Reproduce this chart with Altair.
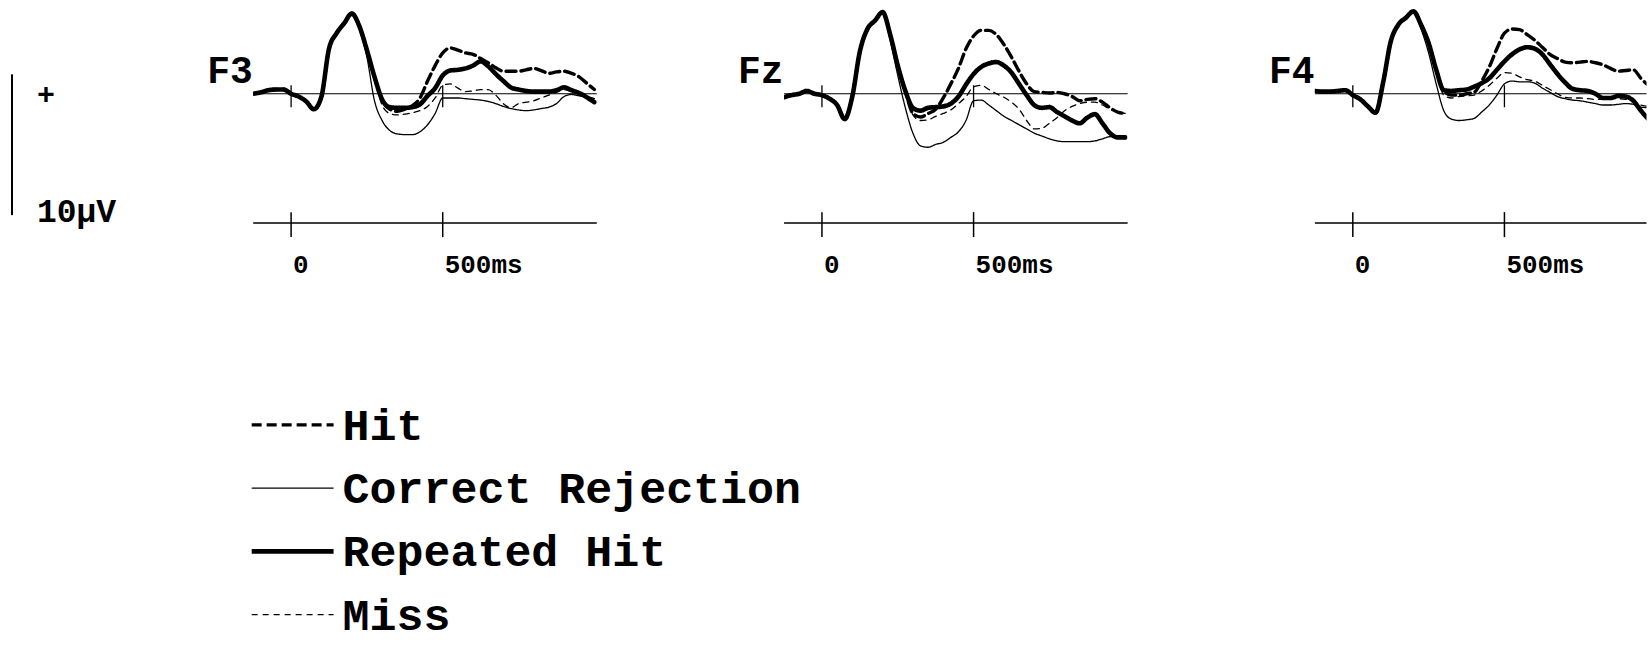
import altair as alt
import pandas as pd

# ---------------- data ----------------
TIMES = [-125, -100, -75, -50, -25, 0, 25, 50, 75, 100, 125, 150, 175, 200, 225, 250, 275,
         300, 325, 350, 375, 400, 425, 450, 475, 500, 525, 550, 575, 600, 625, 650, 675,
         700, 725, 750, 775, 800, 825, 850, 875, 900, 925, 950, 975, 1000]

SERIES = ["Hit", "Correct Rejection", "Repeated Hit", "Miss"]

# F3 (µV)
F3_EARLY = [0.0, 0.1, 0.25, 0.3, 0.3, 0.0, -0.2, -0.55, -1.1, -0.2, 3.2, 4.3, 5.0, 5.7, 4.8, 3.1, 1.2]
F3_CR_EARLY = [0.0, 0.1, 0.25, 0.3, 0.3, 0.0, -0.2, -0.55, -1.1, -0.2, 3.2, 4.3, 5.0, 5.7, 4.6, 2.6, -0.5]
F3_HIT = [-0.4, -1.1, -1.25, -1.1, -0.85, -0.3, 0.9, 2.0, 2.9, 3.25, 3.1, 2.9, 2.8, 2.5, 2.2,
          1.85, 1.6, 1.6, 1.6, 1.7, 1.8, 1.65, 1.45, 1.55, 1.6, 1.45, 1.2, 0.75, 0.3]
F3_CR = [-1.9, -2.6, -2.85, -2.9, -2.9, -2.7, -2.2, -1.4, -0.3, -0.3, -0.3, -0.35, -0.4, -0.45,
         -0.55, -0.7, -0.9, -1.05, -1.15, -1.2, -1.15, -1.05, -0.95, -0.7, -0.2, -0.05, -0.15, -0.2, -0.35]
F3_RH = [-0.4, -0.95, -1.0, -1.0, -0.95, -0.75, -0.15, 0.4, 1.3, 1.65, 1.7, 1.8, 2.0, 2.3, 1.95,
         1.4, 0.9, 0.45, 0.3, 0.2, 0.15, 0.15, 0.15, 0.25, 0.45, 0.25, 0.05, -0.25, -0.6]
F3_MISS = [-0.8, -1.4, -1.5, -1.45, -1.35, -1.2, -0.9, -0.3, 0.6, 0.7, 0.4, 0.15, 0.2, 0.3, 0.3,
           -0.1, -0.7, -1.0, -0.7, -0.6, -0.5, -0.3, -0.1, 0.1, 0.3, 0.15, -0.05, -0.25, -0.45]

# Fz (µV)
FZ_EARLY = [-0.25, -0.1, 0.0, 0.2, 0.0, -0.1, -0.35, -0.8, -1.8, -0.2, 3.0, 4.6, 5.2, 5.8, 4.2, 2.0, 0.2]
FZ_CR_EARLY = [-0.25, -0.1, 0.0, 0.2, 0.0, -0.1, -0.35, -0.8, -1.8, -0.2, 3.0, 4.6, 5.2, 5.8, 3.8, 1.3, -1.0]
FZ_HIT = [-1.4, -1.65, -1.4, -1.1, -0.3, 0.7, 1.8, 3.2, 4.1, 4.5, 4.5, 4.2, 3.5, 2.6, 1.6, 0.7,
          0.15, 0.1, 0.05, 0.1, 0.0, -0.2, -0.5, -0.4, -0.35, -0.6, -1.0, -1.3, -1.4]
FZ_CR = [-2.8, -3.7, -3.8, -3.6, -3.45, -3.1, -2.7, -1.9, -0.5, -0.45, -0.8, -1.2, -1.6, -1.9,
         -2.2, -2.5, -2.8, -3.0, -3.2, -3.35, -3.4, -3.4, -3.4, -3.4, -3.35, -3.2, -3.05, -3.1, -3.2]
FZ_RH = [-1.0, -1.2, -1.0, -0.95, -0.9, -0.7, -0.2, 0.65, 1.4, 1.9, 2.15, 2.25, 2.0, 1.5, 0.7,
         -0.1, -0.8, -1.0, -0.95, -1.3, -1.6, -1.9, -2.1, -1.7, -1.45, -2.1, -2.8, -3.1, -3.1]
FZ_MISS = [-1.5, -1.9, -1.85, -1.6, -1.4, -1.15, -0.7, -0.2, 0.5, 0.6, 0.3, 0.0, -0.25, -0.6,
           -1.1, -1.9, -2.5, -2.45, -2.1, -1.7, -1.2, -0.9, -0.7, -0.6, -0.6, -0.8, -1.1, -1.3, -1.4]

# F4 (µV)
F4_EARLY = [0.2, 0.15, 0.15, 0.2, 0.25, -0.1, -0.4, -0.9, -1.35, 0.8, 3.7, 4.9, 5.4, 5.85, 4.9, 3.6, 1.7]
F4_CR_EARLY = [0.2, 0.15, 0.15, 0.2, 0.25, -0.1, -0.4, -0.9, -1.35, 0.8, 3.7, 4.9, 5.4, 5.85, 4.6, 2.9, 0.7]
F4_HIT = [0.2, -0.1, -0.1, 0.0, 0.1, 0.9, 1.9, 3.2, 4.3, 4.6, 4.55, 4.2, 3.8, 3.3, 2.8, 2.5,
          2.25, 2.2, 2.25, 2.3, 2.2, 2.05, 1.8, 1.6, 1.65, 1.7, 1.1, 0.6, 0.3]
F4_CR = [-1.2, -1.8, -1.9, -1.85, -1.75, -1.3, -0.8, -0.1, 0.7, 0.9, 0.85, 0.85, 0.75, 0.4, 0.1,
         -0.2, -0.35, -0.45, -0.5, -0.6, -0.7, -0.8, -0.8, -0.75, -0.7, -0.75, -0.95, -1.0, -1.1]
F4_RH = [0.25, 0.2, 0.25, 0.3, 0.5, 0.75, 1.1, 1.7, 2.3, 2.8, 3.15, 3.3, 3.2, 2.8, 2.1, 1.4, 0.8,
         0.35, 0.25, 0.2, 0.0, -0.3, -0.3, -0.15, -0.2, -0.5, -1.2, -1.8, -2.2]
F4_MISS = [-0.1, -0.3, -0.2, -0.15, -0.1, 0.2, 0.6, 1.1, 1.5, 1.45, 1.2, 1.0, 0.9, 0.6, 0.3, 0.0,
           -0.25, -0.3, -0.3, -0.35, -0.4, -0.4, -0.35, -0.35, -0.4, -0.5, -0.8, -0.9, -1.0]

TICK_TIMES = [0, 500]
TICK_LABELS = ["0", "500ms"]
SCALE_BAR = {"top": [1.38], "bottom": [-8.62]}  # 10 µV calibration bar

# ---------------- styling ----------------
FONT = "Liberation Mono"
H = 280
Y_DOMAIN = [-13.23, 6.63]
SPACING = 187.5

dash_scale = alt.Scale(type="ordinal", domain=SERIES, range=[[10, 5], [1, 0], [1, 0], [6, 5]])
width_scale = alt.Scale(type="ordinal", domain=SERIES, range=[3.4, 1.3, 4.6, 1.3])
y_scale = alt.Scale(domain=Y_DOMAIN, nice=False, zero=False)


def make_df(early, cr_early, hit, cr, rh, miss):
    rows = []
    for name, vals in [("Hit", early + hit), ("Correct Rejection", cr_early + cr),
                       ("Repeated Hit", early + rh), ("Miss", early + miss)]:
        for t, v in zip(TIMES, vals):
            rows.append({"t": t, "uv": v, "series": name})
    return pd.DataFrame(rows)


ticks_df = pd.DataFrame({"t": TICK_TIMES, "label": TICK_LABELS})


def panel(name, df, width, x_max):
    xsc = alt.Scale(domain=[-125, x_max], nice=False, zero=False)
    xs = alt.X("t:Q", scale=xsc, axis=None)
    ys = alt.Y("uv:Q", scale=y_scale, axis=None)
    lines = alt.Chart(df).mark_line(
        interpolate="monotone", clip=True, color="black", strokeCap="round", strokeJoin="round"
    ).encode(
        x=xs, y=ys,
        strokeDash=alt.StrokeDash("series:N", scale=dash_scale, legend=None),
        strokeWidth=alt.StrokeWidth("series:N", scale=width_scale, legend=None),
    )
    zero = alt.Chart(pd.DataFrame({"uv": [0.0]})).mark_rule(color="black", strokeWidth=1.2).encode(
        y=ys, x=alt.value(0), x2=alt.value(width))
    base_ticks = alt.Chart(ticks_df).mark_rule(color="black", strokeWidth=1.3).encode(
        x=xs, y=alt.value(85), y2=alt.value(107))
    t_axis = alt.Chart(pd.DataFrame({"t": [0]})).mark_rule(color="black", strokeWidth=1.5).encode(
        x=alt.value(0), x2=alt.value(width), y=alt.value(223))
    t_ticks = alt.Chart(ticks_df).mark_rule(color="black", strokeWidth=1.5).encode(
        x=xs, y=alt.value(212), y2=alt.value(237))
    t_labels = alt.Chart(ticks_df).mark_text(
        align="left", baseline="alphabetic", dx=2, font=FONT, fontWeight="bold", fontSize=26, color="black"
    ).encode(x=xs, y=alt.value(273), text="label:N")
    label = alt.Chart(pd.DataFrame({"label": [name]})).mark_text(
        align="left", baseline="alphabetic", font=FONT, fontWeight="bold", fontSize=38, color="black"
    ).encode(x=alt.value(-46), y=alt.value(83), text="label:N")
    return alt.layer(zero, base_ticks, lines, t_axis, t_ticks, t_labels, label).properties(
        width=width, height=H)


# calibration panel
bar = alt.Chart(pd.DataFrame(SCALE_BAR)).mark_rule(color="black", strokeWidth=2).encode(
    x=alt.value(12), y=alt.Y("top:Q", scale=y_scale, axis=None), y2="bottom:Q")
plus = alt.Chart(pd.DataFrame({"s": ["+"]})).mark_text(
    font=FONT, fontWeight="bold", fontSize=30, color="black", align="center", baseline="middle"
).encode(x=alt.value(46), y=alt.value(95), text="s:N")
unit = alt.Chart(pd.DataFrame({"s": ["10µV"]})).mark_text(
    font=FONT, fontWeight="bold", fontSize=33, color="black", align="left", baseline="alphabetic"
).encode(x=alt.value(37), y=alt.value(222), text="s:N")
cal = alt.layer(bar, plus, unit).properties(width=65.5, height=H)

p_f3 = panel("F3", make_df(F3_EARLY, F3_CR_EARLY, F3_HIT, F3_CR, F3_RH, F3_MISS), 344, 1008)
p_fz = panel("Fz", make_df(FZ_EARLY, FZ_CR_EARLY, FZ_HIT, FZ_CR, FZ_RH, FZ_MISS), 344, 1008)
p_f4 = panel("F4", make_df(F4_EARLY, F4_CR_EARLY, F4_HIT, F4_CR, F4_RH, F4_MISS), 332, 968.5)

top = alt.hconcat(cal, p_f3, p_fz, p_f4, spacing=SPACING, bounds="flush")

# legend drawn as marks
leg_df = pd.DataFrame({"series": SERIES})
ly = alt.Y("series:N", scale=alt.Scale(domain=SERIES, type="point", padding=0.465), axis=None)
leg_lines = alt.Chart(leg_df).mark_rule(color="black").encode(
    x=alt.value(252), x2=alt.value(334), y=ly,
    strokeDash=alt.StrokeDash("series:N", scale=dash_scale, legend=None),
    strokeWidth=alt.StrokeWidth("series:N", scale=width_scale, legend=None),
)
leg_text = alt.Chart(leg_df).mark_text(
    align="left", baseline="middle", dy=1, font=FONT, fontWeight="bold", fontSize=45, color="black"
).encode(x=alt.value(343), y=ly, text="series:N")
legend = alt.layer(leg_lines, leg_text).properties(width=900, height=249)

chart = alt.vconcat(top, legend, spacing=115.5).properties(
    padding={"left": 0, "top": 0, "right": 0, "bottom": 0}
).configure(background="white").configure_view(stroke="transparent", strokeWidth=0)

chart.save("out.html", embed_options={"renderer": "svg", "actions": False})
